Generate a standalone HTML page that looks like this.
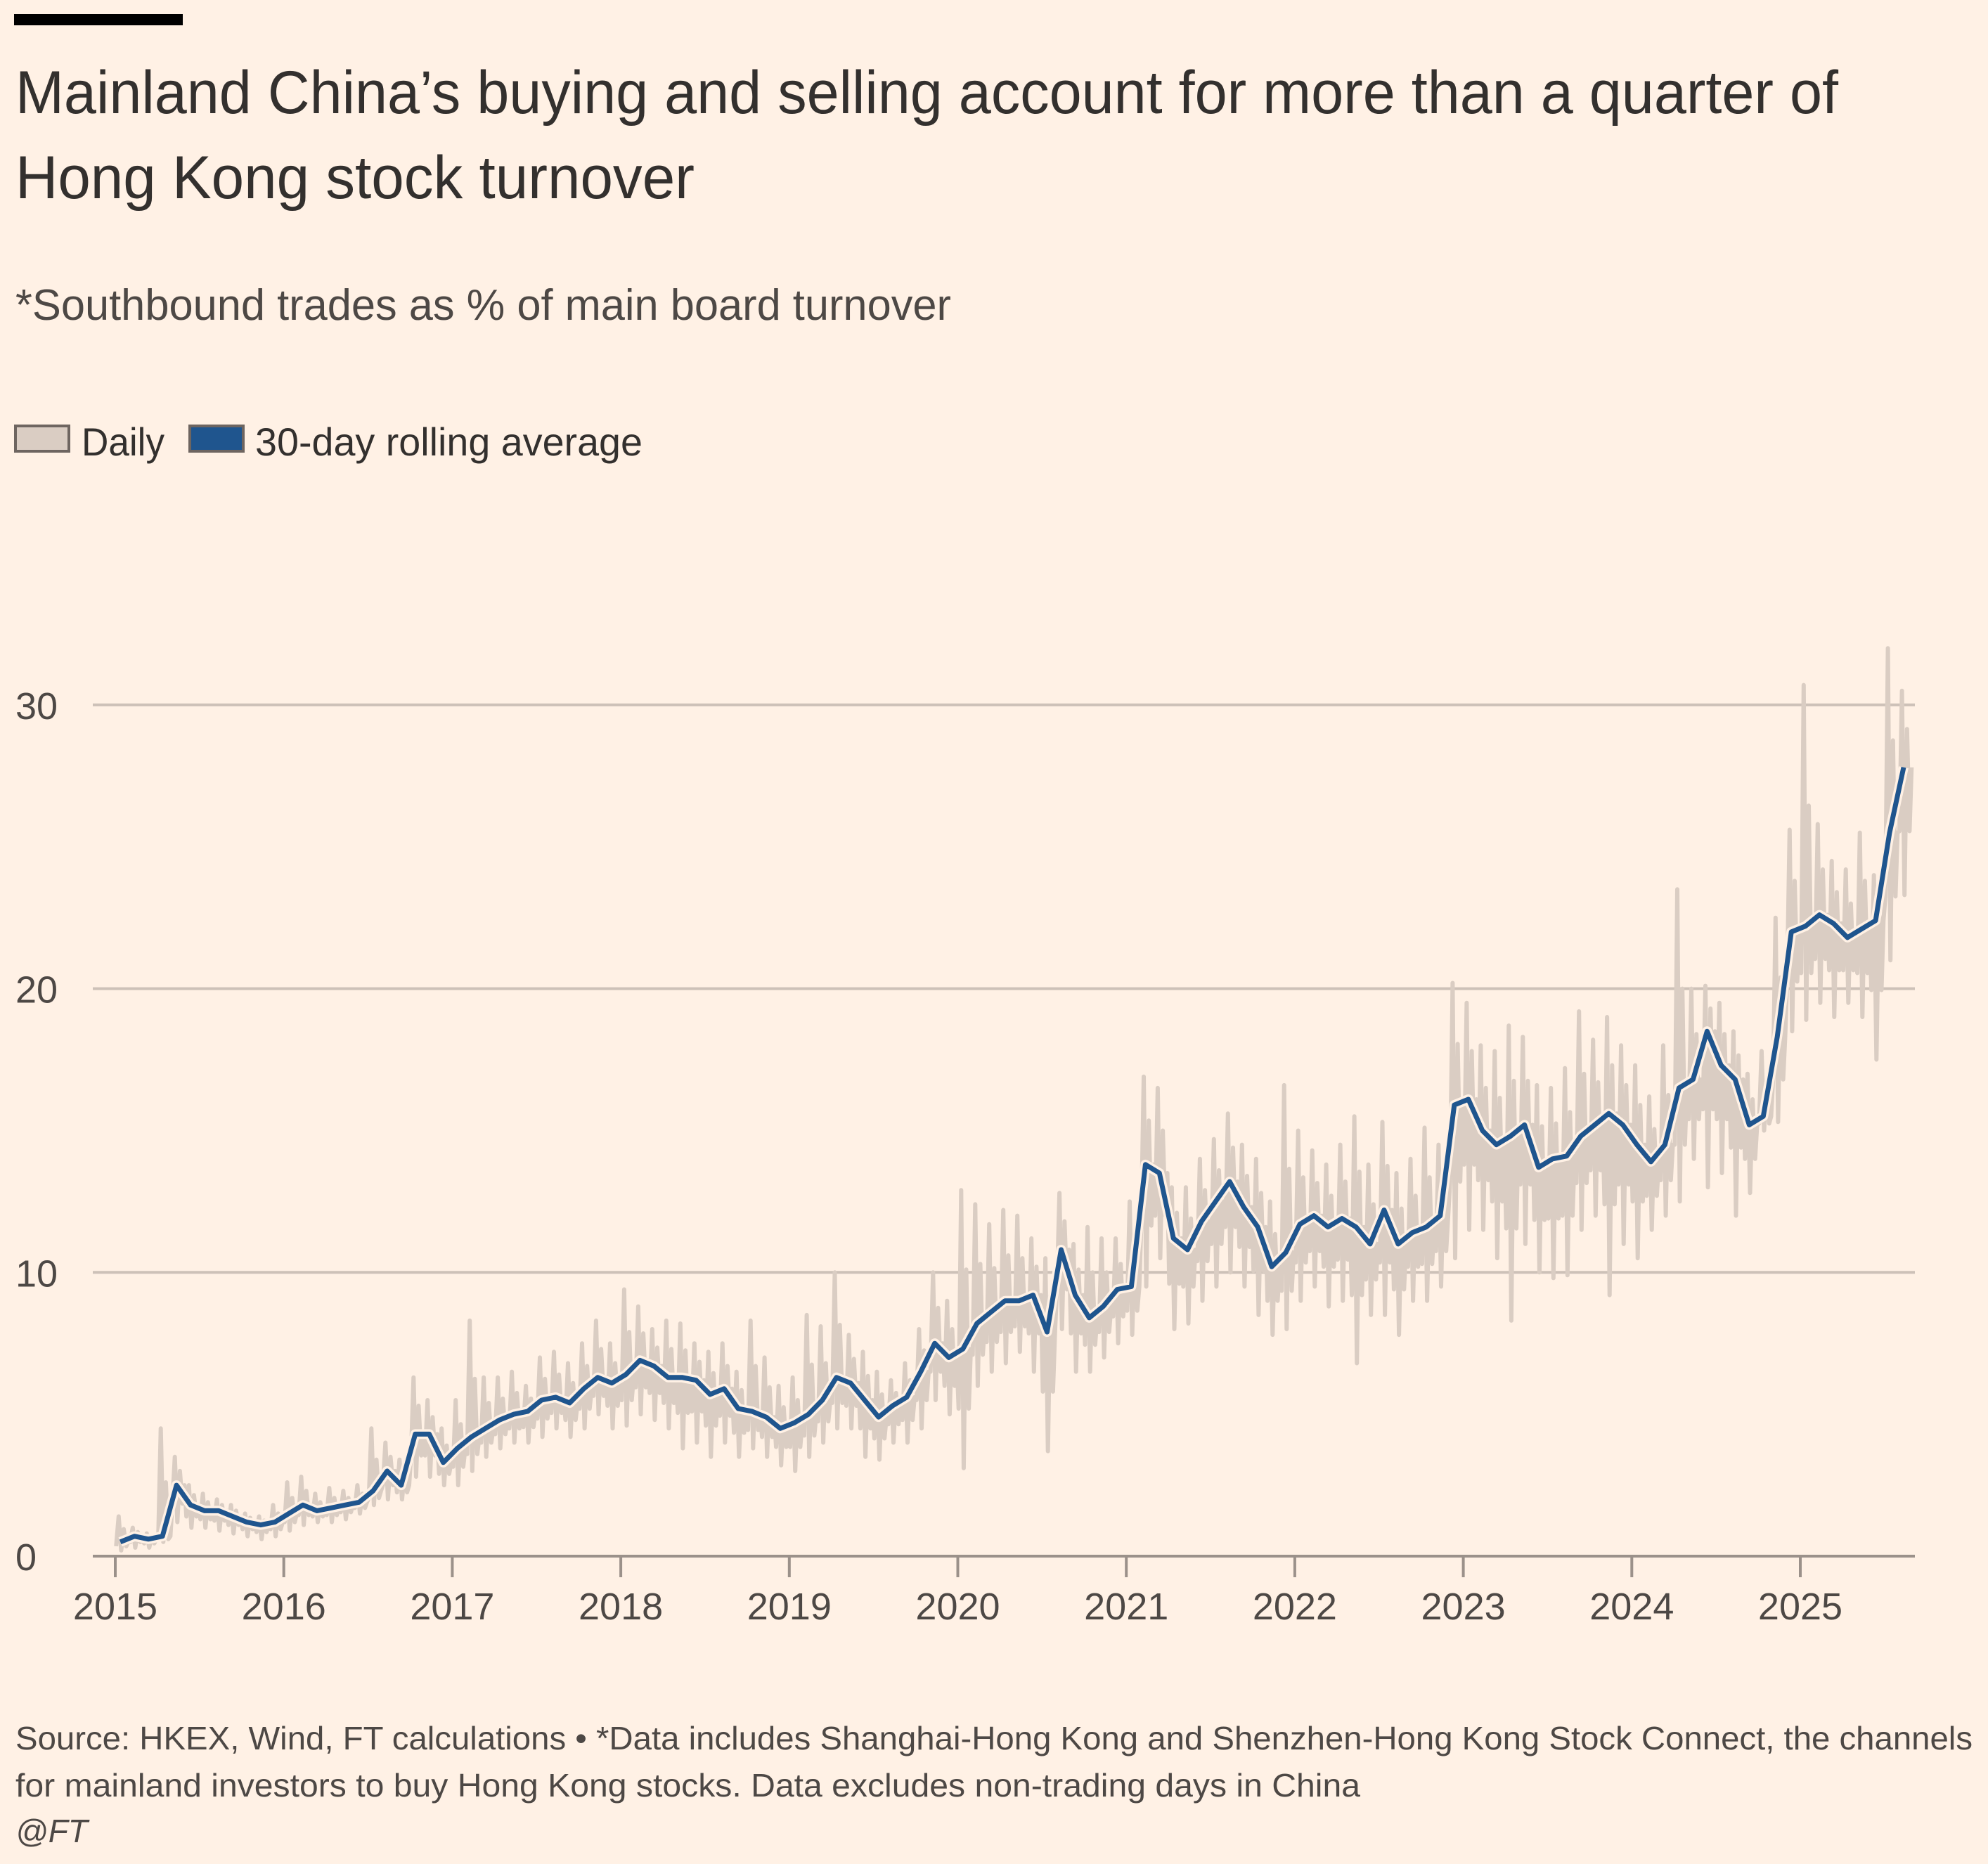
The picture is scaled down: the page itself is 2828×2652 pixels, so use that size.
<!DOCTYPE html>
<html><head><meta charset="utf-8"><style>
html,body{margin:0;padding:0;background:#fff1e5;}
svg{display:block;font-family:"Liberation Sans",sans-serif;}
</style></head><body>
<svg id="chart" width="2828" height="2652" viewBox="0 0 2828 2652">
<rect x="0" y="0" width="2828" height="2652" fill="#fff1e5"/>
<rect x="20" y="20" width="240" height="16" fill="#000"/>
<text x="22" y="161" font-size="86" fill="#33302e" textLength="2593" lengthAdjust="spacingAndGlyphs">Mainland China’s buying and selling account for more than a quarter of</text>
<text x="22" y="282" font-size="86" fill="#33302e" textLength="966" lengthAdjust="spacingAndGlyphs">Hong Kong stock turnover</text>
<text x="22" y="455" font-size="62" fill="#4d4845" textLength="1331" lengthAdjust="spacingAndGlyphs">*Southbound trades as % of main board turnover</text>
<g>
<rect x="22" y="606" width="76" height="36" fill="#dacdc3" stroke="#6e6560" stroke-width="4"/>
<text x="116" y="648" font-size="56" fill="#33302e" textLength="118" lengthAdjust="spacingAndGlyphs">Daily</text>
<rect x="270" y="606" width="76" height="36" fill="#1f558e" stroke="#6e6560" stroke-width="4"/>
<text x="363" y="648" font-size="56" fill="#33302e" textLength="551" lengthAdjust="spacingAndGlyphs">30-day rolling average</text>
</g>
<g id="grid"></g>
<g id="ylabels"></g>
<g id="series"></g>
<g id="xaxis"></g>
<text x="22" y="2489" font-size="46" fill="#4d4845" textLength="2784" lengthAdjust="spacingAndGlyphs">Source: HKEX, Wind, FT calculations • *Data includes Shanghai-Hong Kong and Shenzhen-Hong Kong Stock Connect, the channels</text>
<text x="22" y="2556" font-size="46" fill="#4d4845" textLength="1913" lengthAdjust="spacingAndGlyphs">for mainland investors to buy Hong Kong stocks. Data excludes non-trading days in China</text>
<text x="22" y="2621" font-size="46" font-style="italic" fill="#4d4845">@FT</text>
</svg>
<script>
const yTicks = [0, 10, 20, 30];
const xTickYears = [2015, 2016, 2017, 2018, 2019, 2020, 2021, 2022, 2023, 2024, 2025];
const startYear = 2015;
const avgSeries = [
0.5,0.7,0.6,0.7,2.5,1.8,1.6,1.6,1.4,1.2,1.1,1.2,
1.5,1.8,1.6,1.7,1.8,1.9,2.3,3.0,2.5,4.3,4.3,3.3,
3.8,4.2,4.5,4.8,5.0,5.1,5.5,5.6,5.4,5.9,6.3,6.1,
6.4,6.9,6.7,6.3,6.3,6.2,5.7,5.9,5.2,5.1,4.9,4.5,
4.7,5.0,5.5,6.3,6.1,5.5,4.9,5.3,5.6,6.5,7.5,7.0,
7.3,8.2,8.6,9.0,9.0,9.2,7.9,10.8,9.2,8.4,8.8,9.4,
9.5,13.8,13.5,11.2,10.8,11.8,12.5,13.2,12.3,11.6,10.2,10.7,
11.7,12.0,11.6,11.9,11.6,11.0,12.2,11.0,11.4,11.6,12.0,15.9,
16.1,15.0,14.5,14.8,15.2,13.7,14.0,14.1,14.8,15.2,15.6,15.2,
14.5,13.9,14.5,16.5,16.8,18.5,17.3,16.8,15.2,15.5,18.3,22.0,
22.2,22.6,22.3,21.8,22.1,22.4,25.5,27.8];
const dailyHigh = [
1.4,1.0,0.8,4.5,3.5,2.5,2.2,2.0,1.8,1.5,1.4,1.8,
2.6,2.8,2.2,2.4,2.3,2.5,4.5,4.0,3.4,6.3,5.5,4.5,
5.5,8.3,6.3,6.3,6.5,6.0,7.0,7.2,6.8,7.5,8.3,7.5,
9.4,8.8,8.0,8.3,8.2,7.5,7.2,7.5,6.5,8.3,7.0,6.0,
6.3,8.5,8.1,10.0,7.8,7.2,6.5,6.2,6.8,8.0,10.0,9.0,
12.9,12.4,11.7,12.2,12.0,11.2,10.5,12.8,11.0,11.6,11.2,11.2,
12.5,16.9,16.5,13.0,13.0,14.0,14.7,15.6,14.5,14.0,12.5,16.6,
15.0,14.3,13.8,14.5,15.5,13.8,15.3,13.5,14.0,15.1,14.5,20.2,
19.5,18.0,17.8,18.7,18.3,16.6,16.5,17.2,19.2,18.2,19.0,18.0,
17.3,16.2,18.0,23.5,20.0,20.1,19.5,18.5,17.0,17.8,22.5,25.6,
30.7,25.8,24.5,24.2,25.5,24.0,32.0,30.5];
const dailyLow = [
0.2,0.3,0.3,0.5,1.2,1.0,1.0,0.9,0.8,0.7,0.6,0.7,
0.9,1.1,1.2,1.2,1.3,1.5,1.8,2.0,2.0,2.8,2.8,2.5,
2.5,3.0,3.5,3.8,4.0,4.0,4.2,4.5,4.2,4.5,5.0,4.5,
4.6,5.0,4.8,4.5,3.8,4.0,3.5,4.0,3.5,3.8,3.5,3.2,
3.0,3.5,4.0,4.5,4.5,3.5,3.4,4.0,4.0,4.5,5.5,5.0,
3.1,6.0,6.5,6.8,7.2,6.5,3.7,8.0,6.5,6.5,7.0,7.5,
7.8,9.5,10.5,8.0,8.2,9.0,9.5,10.0,9.5,8.5,7.8,8.0,
9.0,9.5,8.8,9.0,6.8,8.5,8.5,7.8,9.0,9.0,9.5,10.5,
11.5,11.5,10.5,8.3,11.0,10.0,9.8,9.9,11.5,12.0,9.2,11.0,
10.5,11.5,12.0,12.5,14.0,13.0,13.5,12.0,12.8,15.0,15.3,18.5,
18.9,19.5,19.0,19.5,19.0,17.5,21.0,23.3];

const NS = "http://www.w3.org/2000/svg";
const X0 = 164, PXY = 239.7, Y0 = 2214, PXV = 40.37, XL = 132, XR = 2724;
function xScale(year){ return X0 + (year - 2015) * PXY; }
function yScale(v){ return Y0 - v * PXV; }
function mk(tag, attrs, parent){ const e = document.createElementNS(NS, tag); for (const k in attrs) e.setAttribute(k, attrs[k]); parent.appendChild(e); return e; }

const grid = document.getElementById('grid');
const ylab = document.getElementById('ylabels');
yTicks.forEach(v => {
  if (v > 0) {
    const l = mk('line', {x1: XL, x2: XR, y1: yScale(v), y2: yScale(v), stroke: '#cdc1b8', 'stroke-width': 4}, grid);
    
    
  }
  const t = mk('text', {x: 22, y: yScale(v) + 20, 'font-size': 54, fill: '#4d4845'}, ylab);
  t.textContent = v;
  
  
});

const series = document.getElementById('series');
let dp = [];
dailyHigh.forEach((h, m) => {
  const t = startYear + m / 12;
  const lo = dailyLow[m], a = avgSeries[m];
  dp.push([t + 0.005, (a + lo) / 2], [t + 0.02, h], [t + 0.035, lo], [t + 0.05, (h + a) / 2], [t + 0.065, (lo + a) / 2], [t + 0.077, a]);
});
const daily = mk('polyline', {points: dp.map(p => xScale(p[0]).toFixed(1) + ',' + yScale(p[1]).toFixed(1)).join(' '), fill: 'none', stroke: '#dacdc3', 'stroke-width': 6, 'stroke-linejoin': 'round'}, series);



const ap = avgSeries.map((v, m) => xScale(startYear + 0.03 + m / 12).toFixed(1) + ',' + yScale(v).toFixed(1)).join(' ');
const halo = mk('polyline', {points: ap, fill: 'none', stroke: '#fff1e5', 'stroke-width': 14, 'stroke-linejoin': 'round'}, series);


const avg = mk('polyline', {points: ap, fill: 'none', stroke: '#1f558e', 'stroke-width': 7, 'stroke-linejoin': 'round'}, series);



const xa = document.getElementById('xaxis');
const axl = mk('line', {x1: XL, x2: XR, y1: Y0, y2: Y0, stroke: '#9b918a', 'stroke-width': 4}, xa);


xTickYears.forEach(yr => {
  const x = xScale(yr);
  const tk = mk('line', {x1: x, x2: x, y1: Y0, y2: Y0 + 30, stroke: '#9b918a', 'stroke-width': 4}, xa);
  
  
  const t = mk('text', {x: x, y: Y0 + 90, 'font-size': 54, fill: '#4d4845', 'text-anchor': 'middle'}, xa);
  t.textContent = yr;
  
  
});
</script>
</body></html>
